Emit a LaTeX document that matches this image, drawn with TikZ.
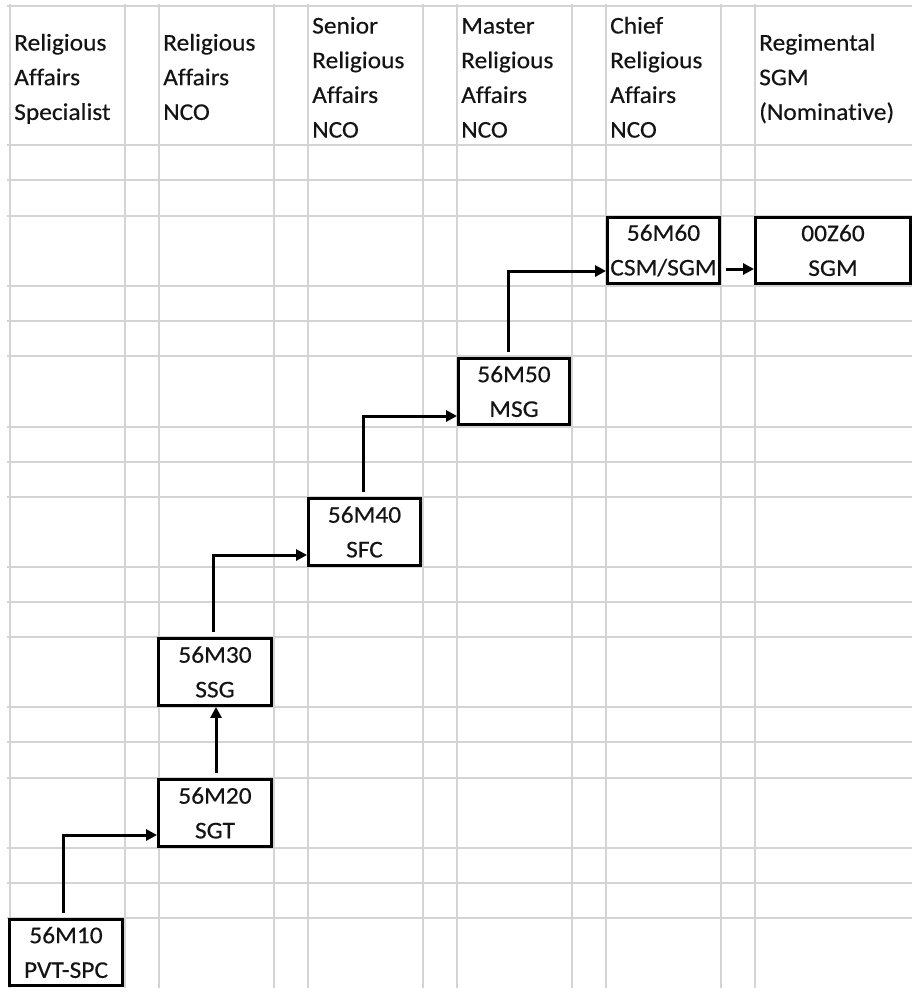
\documentclass[tikz,border=0pt]{standalone}
\usepackage{fontspec}
\setmainfont{Carlito}[FakeStretch=1.06,FakeBold=0.35,Ligatures=NoCommon]
\usetikzlibrary{arrows.meta}
\definecolor{gridc}{RGB}{212,212,212}
\definecolor{txt}{RGB}{20,20,20}
\newcommand{\cellfont}{\fontsize{24}{34.7}\selectfont}
\begin{document}
\begin{tikzpicture}[x=1pt,y=-1pt,
  gridline/.style={draw=gridc,line width=1.7pt},
  rankbox/.style={draw=black,line width=3.4pt,fill=white,inner sep=0pt,align=center,minimum height=66.5pt,font=\cellfont,text=txt},
  headtext/.style={anchor=base west,inner sep=0pt,font=\cellfont,text=txt},
  link/.style={draw=black,line width=3pt,-{Triangle[length=11pt,width=11pt]},shorten <=5pt}
]
\fill[white] (0,0) rectangle (912,994);
\useasboundingbox (0,0) rectangle (912,994);
% spreadsheet grid
\foreach \x in {10,125,159,274,308,423,457,572,606,721,755}
  \draw[gridline] (\x,4) -- (\x,988);
\foreach \y in {6,145,180,216,286,321,356,427,462,497,567,602,637,707,742,778,848,883,918}
  \draw[gridline] (7,\y) -- (912,\y);
% headers
\node[headtext] (h1) at (14,50.5) {\begin{tabular}[t]{@{}l@{}}Religious\\Affairs\\Specialist\end{tabular}};
\node[headtext] (h2) at (163,50.5) {\begin{tabular}[t]{@{}l@{}}Religious\\Affairs\\NCO\end{tabular}};
\node[headtext] (h3) at (312,33.5) {\begin{tabular}[t]{@{}l@{}}Senior\\Religious\\Affairs\\NCO\end{tabular}};
\node[headtext] (h4) at (461,33.5) {\begin{tabular}[t]{@{}l@{}}Master\\Religious\\Affairs\\NCO\end{tabular}};
\node[headtext] (h5) at (610,33.5) {\begin{tabular}[t]{@{}l@{}}Chief\\Religious\\Affairs\\NCO\end{tabular}};
\node[headtext] (h6) at (759,50.5) {\begin{tabular}[t]{@{}l@{}}Regimental\\SGM\\(Nominative)\end{tabular}};
% rank boxes
\node[rankbox,minimum width=112.5pt] (b1) at (66,952.5) {56M10\\PVT-SPC};
\node[rankbox,minimum width=112.5pt] (b2) at (215,813) {56M20\\SGT};
\node[rankbox,minimum width=112.5pt] (b3) at (215,672) {56M30\\SSG};
\node[rankbox,minimum width=111.5pt] (b4) at (364.5,532) {56M40\\SFC};
\node[rankbox,minimum width=110.5pt] (b5) at (514,391.5) {56M50\\MSG};
\node[rankbox,minimum width=111.5pt] (b6) at (663.5,250.5) {56M60\\CSM/SGM};
\node[rankbox,minimum width=154.5pt] (b7) at (833,250.5) {00Z60\\SGM};
% connectors
\draw[link] ([xshift=-3pt]b1.north) |- ([yshift=-22pt]b2.west);
\draw[link] ([xshift=1pt]b2.north) -- ([xshift=1pt]b3.south);
\draw[link] ([xshift=-2pt]b3.north) |- ([yshift=-23pt]b4.west);
\draw[link] ([xshift=-1.5pt]b4.north) |- ([yshift=-24.5pt]b5.west);
\draw[link] ([xshift=-6pt]b5.north) |- ([yshift=-20.5pt]b6.west);
\draw[link] ([yshift=-18.5pt]b6.east) -- ([yshift=-18.5pt]b7.west);
\end{tikzpicture}
\end{document}
